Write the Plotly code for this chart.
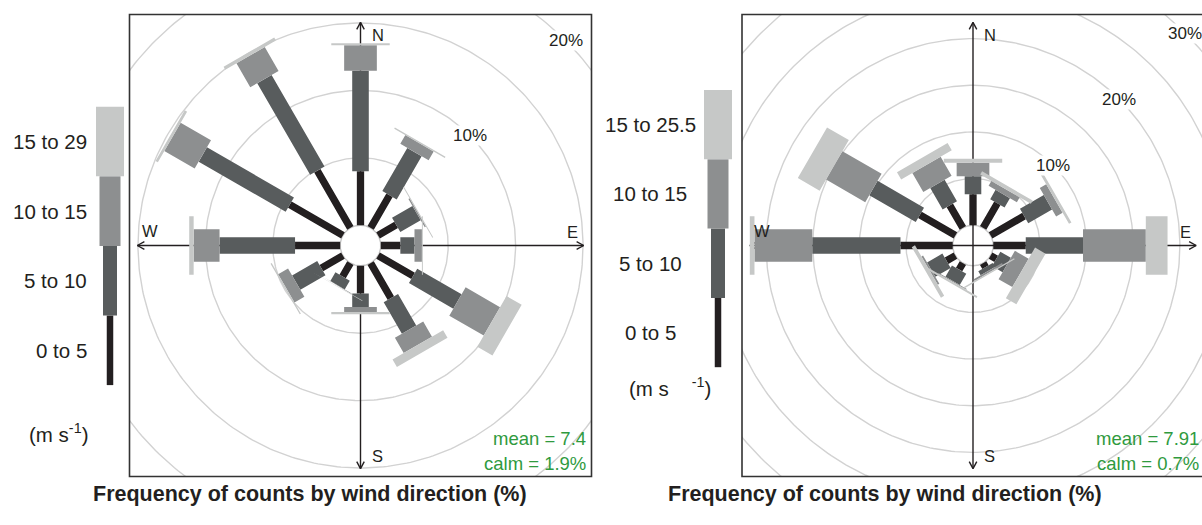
import numpy as np
import plotly.graph_objects as go

FIG_W, FIG_H = 1202, 525
BOX = 462  # side of each square rose panel, px

directions = [0, 30, 60, 90, 120, 150, 180, 210, 240, 270, 300, 330]

# Left site: frequency of counts (%) per wind-speed band and direction
left_0_5 = [4.00, 2.80, 1.55, 1.45, 3.00, 3.00, 2.05, 1.15, 1.85, 3.35, 4.55, 4.90]
left_5_10 = [7.45, 3.70, 1.75, 1.05, 3.80, 2.70, 1.00, 0.75, 2.15, 5.60, 7.45, 7.85]
left_10_15 = [1.90, 0.75, 0.10, 0.55, 2.95, 1.30, 0.37, 0.05, 0.85, 1.92, 2.60, 2.05]
left_15_29 = [0.15, 0.10, 0.07, 0.07, 1.30, 0.65, 0.18, 0.05, 0.10, 0.33, 0.20, 0.25]
left_band_labels = ["0 to 5", "5 to 10", "10 to 15", "15 to 29"]
left_mean = 7.4
left_calm = 1.9

# Right site
right_0_5 = [3.32, 3.05, 4.15, 3.48, 0.70, 0.50, 0.05, 0.80, 1.10, 5.60, 4.40, 2.80]
right_5_10 = [1.93, 1.15, 2.95, 6.14, 1.30, 0.50, 0.01, 1.40, 1.90, 9.45, 5.75, 2.65]
right_10_15 = [1.45, 0.60, 0.80, 6.73, 1.70, 0.20, 0.00, 0.10, 0.20, 6.20, 4.85, 2.35]
right_15_25 = [0.42, 0.40, 0.30, 2.33, 1.30, 0.15, 0.00, 0.20, 0.40, 0.50, 2.70, 0.90]
right_band_labels = ["0 to 5", "5 to 10", "10 to 15", "15 to 25.5"]
right_mean = 7.91
right_calm = 0.7

unit_label = "(m s<sup>-1</sup>)"
title_text = "<b>Frequency of counts by wind direction (%)</b>"

GRID_STEP = 5
LABEL_STEP = 10

BAND_COLOURS = ["#231f20", "#585c5d", "#8d8f90", "#c6c8c7"]
GRID_COLOUR = "#d2d2d2"
INK = "#231f20"
STAT_GREEN = "#2f9a3e"
FONT = "Liberation Sans, Arial, sans-serif"

fig = go.Figure()
annotations = []
shapes = []


def paper_x(px):
    return px / FIG_W


def paper_y(py):
    return 1 - py / FIG_H


def add_rose(n, freqs, box_left, box_top, axes_over_calm, mean, calm):
    sfx = "" if n == 1 else str(n)
    xref, yref = "x" + sfx, "y" + sfx
    cum = np.cumsum(np.array(freqs, dtype=float), axis=0)
    max_freq = cum[-1].max()
    off = 0.1 * max_freq           # radius of the calm circle
    reach = max_freq + off         # length of the compass arrows
    R = 1.035 * reach              # half-range of the square panel
    px_per_unit = BOX / (2 * R)

    right_px = min(box_left + BOX, FIG_W)
    fig.update_layout(**{
        f"xaxis{sfx}": dict(domain=[paper_x(box_left), paper_x(right_px)],
                            range=[-R, -R + 2 * R * (right_px - box_left) / BOX],
                            visible=False, fixedrange=True, anchor=yref),
        f"yaxis{sfx}": dict(domain=[paper_y(box_top + BOX), paper_y(box_top)],
                            range=[-R, R], visible=False, fixedrange=True, anchor=xref),
    })

    common = dict(xaxis=xref, yaxis=yref, hoverinfo="skip", showlegend=False)

    # grid rings
    t = np.linspace(0, 2 * np.pi, 361)
    gx, gy = [], []
    v = GRID_STEP
    while (v + off) < R * 1.45:
        gx += list((v + off) * np.sin(t)) + [None]
        gy += list((v + off) * np.cos(t)) + [None]
        v += GRID_STEP
    fig.add_trace(go.Scatter(x=gx, y=gy, mode="lines",
                             line=dict(color=GRID_COLOUR, width=1.4), **common))

    # compass arrows with open heads
    def arrows():
        head = 8 / px_per_unit
        ax, ay = [0, 0, None, -reach, reach, None], [-reach, reach, None, 0, 0, None]
        for ux, uy in [(0, 1), (1, 0), (0, -1), (-1, 0)]:
            tx, ty = reach * ux, reach * uy
            for sign in (1, -1):
                a = np.radians(28) * sign
                bx = ux * np.cos(a) - uy * np.sin(a)
                by = ux * np.sin(a) + uy * np.cos(a)
                ax += [tx - head * bx, tx, None]
                ay += [ty - head * by, ty, None]
        fig.add_trace(go.Scatter(x=ax, y=ay, mode="lines",
                                 line=dict(color=INK, width=1.4), **common))

    def calm_circle():
        fig.add_trace(go.Scatter(x=off * np.sin(t), y=off * np.cos(t), mode="lines",
                                 fill="toself", fillcolor="white",
                                 line=dict(color="#c8c8c8", width=1.4), **common))

    if axes_over_calm:
        calm_circle()
        arrows()
    else:
        arrows()
        calm_circle()

    # paddles: one rectangle per direction and speed band
    theta = np.radians(directions)
    s, c = np.sin(theta), np.cos(theta)
    box_widths = np.linspace(0.002 ** 0.25, 0.016 ** 0.25, 4) ** 4
    for j in range(4):
        inner = off + (cum[j - 1] if j else np.zeros(len(directions)))
        outer = off + cum[j]
        hw = box_widths[j] * 9 * max_freq
        xs, ys = [], []
        for i in range(len(directions)):
            for length, w in [(inner[i], -hw), (inner[i], hw), (outer[i], hw),
                              (outer[i], -hw), (inner[i], -hw)]:
                xs.append(length * s[i] + w * c[i])
                ys.append(length * c[i] - w * s[i])
            xs.append(None)
            ys.append(None)
        fig.add_trace(go.Scatter(x=xs, y=ys, mode="lines", fill="toself",
                                 fillcolor=BAND_COLOURS[j], line=dict(width=0),
                                 **common))

    # ring labels on the NE diagonal
    v = LABEL_STEP
    while (v + off) * 0.7071 < 0.97 * R:
        d = (v + off) * 0.7071
        annotations.append(dict(x=d, y=d, xref=xref, yref=yref, text=f"{v}%",
                                showarrow=False, bgcolor="white", borderpad=0,
                                font=dict(size=17, color=INK, family=FONT)))
        v += LABEL_STEP

    # compass letters
    p = 0.945 * reach
    for txt, x, y, kw in [("N", 0, p, dict(xanchor="left", xshift=9)),
                          ("S", 0, -p, dict(xanchor="left", xshift=9)),
                          ("E", 0.952 * reach, 0, dict(yshift=14)),
                          ("W", -p, 0, dict(yshift=15))]:
        annotations.append(dict(x=x, y=y, xref=xref, yref=yref, text=txt,
                                showarrow=False, font=dict(size=16.5, color=INK, family=FONT),
                                **kw))

    # summary statistics
    stat_x = paper_x(box_left + BOX - 3.5)
    for txt, py in [(f"mean = {mean}", box_top + 423.5), (f"calm = {calm}%", box_top + 448.5)]:
        annotations.append(dict(x=stat_x, y=paper_y(py), xref="paper", yref="paper",
                                xanchor="right", yanchor="middle", text=txt, showarrow=False,
                                font=dict(size=18.5, color=STAT_GREEN, family=FONT)))

    # panel frame
    shapes.append(dict(type="rect", xref="paper", yref="paper",
                       x0=paper_x(box_left), x1=paper_x(box_left + BOX),
                       y0=paper_y(box_top + BOX), y1=paper_y(box_top),
                       line=dict(color="#333333", width=1.6), layer="above"))


def add_key(labels, centre_x, top, seg_h, label_x, label_anchor, unit_text, unit_x, unit_y):
    widths = [6.5, 14, 21, 28]
    for j in range(4):
        y1 = top + (3 - j) * seg_h
        shapes.append(dict(type="rect", xref="paper", yref="paper",
                           x0=paper_x(centre_x - widths[j] / 2), x1=paper_x(centre_x + widths[j] / 2),
                           y0=paper_y(y1 + seg_h), y1=paper_y(y1),
                           fillcolor=BAND_COLOURS[j], line=dict(width=0)))
        annotations.append(dict(x=paper_x(label_x), y=paper_y(y1 + seg_h / 2),
                                xref="paper", yref="paper", xanchor=label_anchor,
                                yanchor="middle", text=labels[j], showarrow=False,
                                font=dict(size=20.5, color=INK, family=FONT)))
    annotations.append(dict(x=paper_x(unit_x), y=paper_y(unit_y), xref="paper", yref="paper",
                            xanchor="center", yanchor="middle", text=unit_text, showarrow=False,
                            font=dict(size=20.5, color=INK, family=FONT)))


left_freqs = [left_0_5, left_5_10, left_10_15, left_15_29]
right_freqs = [right_0_5, right_5_10, right_10_15, right_15_25]

add_rose(1, left_freqs, 129.5, 14.5, False, left_mean, left_calm)
add_rose(2, right_freqs, 742.0, 14.5, True, right_mean, right_calm)

add_key(left_band_labels, 110, 106.7, 69.6, 88.5, "right", unit_label, 58, 433)
add_key(right_band_labels, 718, 90.0, 69.3, 650, "center",
        "(m s\u00a0\u00a0\u00a0\u00a0<sup>-1</sup>)", 670, 387)

for cx in (310, 885):
    annotations.append(dict(x=paper_x(cx), y=paper_y(494), xref="paper", yref="paper",
                            xanchor="center", yanchor="middle", text=title_text,
                            showarrow=False, font=dict(size=21.5, color=INK, family=FONT)))

fig.update_layout(width=FIG_W, height=FIG_H, margin=dict(l=0, r=0, t=0, b=0),
                  paper_bgcolor="white", plot_bgcolor="white", showlegend=False,
                  annotations=annotations, shapes=shapes)

fig.write_html("out.html", config={"displayModeBar": False})
